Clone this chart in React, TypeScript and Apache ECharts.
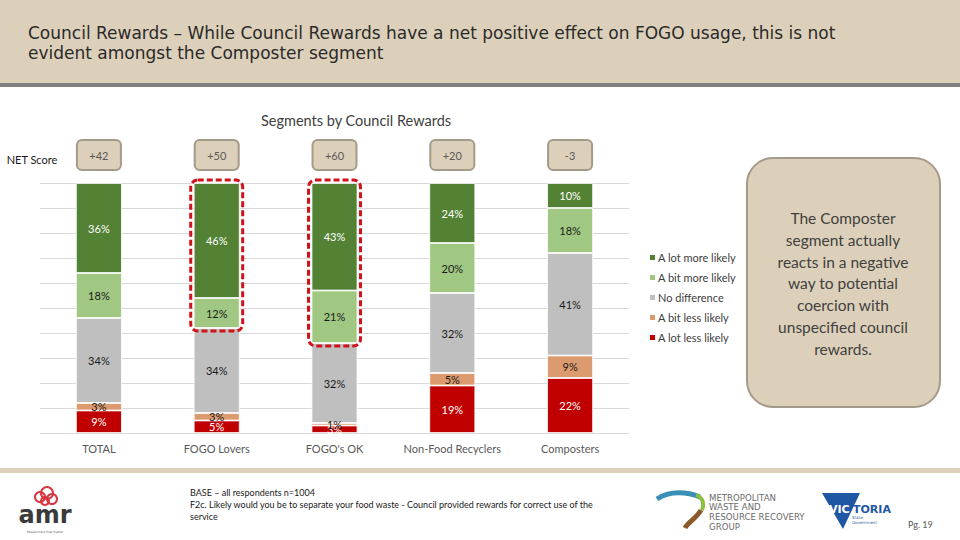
import React, { useEffect, useRef } from "react";
import * as echarts from "echarts";

const categories = ["TOTAL", "FOGO Lovers", "FOGO's OK", "Non-Food Recyclers", "Composters"];
const lotMore = [36, 46, 43, 24, 10];
const bitMore = [18, 12, 21, 20, 18];
const noDiff = [34, 34, 32, 32, 41];
const bitLess = [3, 3, 1, 5, 9];
const lotLess = [9, 5, 3, 19, 22];
const netScores = ["+42", "+50", "+60", "+20", "-3"];
const highlighted = [1, 2];

const seriesDefs = [
  { name: "A lot less likely", data: lotLess, color: "#C00000", label: "#ffffff" },
  { name: "A bit less likely", data: bitLess, color: "#DC9B6E", label: "#1a1a1a" },
  { name: "No difference", data: noDiff, color: "#BFBFBF", label: "#1a1a1a" },
  { name: "A bit more likely", data: bitMore, color: "#A0C882", label: "#1a1a1a" },
  { name: "A lot more likely", data: lotMore, color: "#548235", label: "#ffffff" },
];

const calloutLines = [
  "The Composter",
  "segment actually",
  "reacts in a negative",
  "way to potential",
  "coercion with",
  "unspecified council",
  "rewards.",
];

const FONT = "Lato";
const BEIGE = "#DDD0BA";

export default function App() {
  const ref = useRef<HTMLDivElement>(null);
  useEffect(() => {
    if (!ref.current) return;
    const chart = echarts.init(ref.current, null, { renderer: "svg" });
    chart.setOption({
      animation: false,
      backgroundColor: "#ffffff",
      grid: { left: 40, right: 331, top: 183, bottom: 107 },
      xAxis: {
        type: "category",
        data: categories,
        axisLine: { show: false },
        axisTick: { show: false },
        axisLabel: { color: "#595959", fontFamily: FONT, fontSize: 11, margin: 10, interval: 0 },
      },
      yAxis: {
        type: "value",
        min: 0,
        max: 100,
        interval: 10,
        axisLabel: { show: false },
        axisLine: { show: false },
        axisTick: { show: false },
        splitLine: { lineStyle: { color: "#D9D9D9", width: 1 } },
      },
      legend: {
        orient: "vertical",
        left: 643,
        top: 247,
        itemWidth: 7,
        itemHeight: 7,
        itemGap: 9,
        icon: "rect",
        data: ["A lot more likely", "A bit more likely", "No difference", "A bit less likely", "A lot less likely"],
        textStyle: { color: "#404040", fontFamily: FONT, fontSize: 11, padding: [0, 0, 0, -3] },
      },
      series: seriesDefs.map((s) => ({
        name: s.name,
        type: "bar",
        stack: "total",
        barWidth: "39%",
        data: s.data,
        itemStyle: { color: s.color, borderColor: "#ffffff", borderWidth: 0.8 },
        label: {
          show: true,
          position: "inside",
          formatter: "{c}%",
          color: s.label,
          fontFamily: FONT,
          fontSize: 11,
        },
      })),
    });

    const gfx: any[] = [];
    // title band
    gfx.push({ type: "rect", shape: { x: 0, y: 0, width: 960, height: 83 }, style: { fill: BEIGE }, silent: true });
    gfx.push({ type: "rect", shape: { x: 0, y: 83, width: 960, height: 4 }, style: { fill: "#808080" }, silent: true });
    gfx.push({
      type: "text",
      x: 28,
      y: 23,
      style: {
        text: "Council Rewards – While Council Rewards have a net positive effect on FOGO usage, this is not\nevident amongst the Composter segment",
        fill: "#2a2a2a",
        font: "17px 'DejaVu Sans'",
        lineHeight: 20,
      },
    });
    // subtitle
    gfx.push({
      type: "text",
      x: 356,
      y: 120,
      style: { text: "Segments by Council Rewards", fill: "#404040", font: `14.5px ${FONT}`, align: "center", verticalAlign: "middle" },
    });
    gfx.push({
      type: "text",
      x: 32,
      y: 159,
      style: { text: "NET Score", fill: "#1a1a1a", font: `11px ${FONT}`, align: "center", verticalAlign: "middle" },
    });
    // NET score boxes
    categories.forEach((c, i) => {
      const cx = chart.convertToPixel({ xAxisIndex: 0 }, c) as number;
      gfx.push({
        type: "rect",
        shape: { x: cx - 22, y: 140, width: 44, height: 30, r: 5 },
        style: { fill: BEIGE, stroke: "#A39A8A", lineWidth: 2 },
      });
      gfx.push({
        type: "text",
        x: cx,
        y: 155,
        style: { text: netScores[i], fill: "#595959", font: `11px ${FONT}`, align: "center", verticalAlign: "middle" },
      });
    });
    // highlight dashed boxes
    const yTop = chart.convertToPixel({ yAxisIndex: 0 }, 100) as number;
    const catW = (chart.convertToPixel({ xAxisIndex: 0 }, categories[1]) as number) - (chart.convertToPixel({ xAxisIndex: 0 }, categories[0]) as number);
    const barW = catW * 0.39;
    highlighted.forEach((i) => {
      const cx = chart.convertToPixel({ xAxisIndex: 0 }, categories[i]) as number;
      const yBottom = chart.convertToPixel({ yAxisIndex: 0 }, 100 - lotMore[i] - bitMore[i]) as number;
      gfx.push({
        type: "rect",
        shape: { x: cx - barW / 2 - 3, y: yTop - 3, width: barW + 6, height: yBottom - yTop + 6, r: 7 },
        style: { fill: "none", stroke: "#D0121B", lineWidth: 3, lineDash: [6, 3] },
        z: 10,
      });
    });
    // callout
    gfx.push({
      type: "rect",
      shape: { x: 747, y: 158, width: 193, height: 249, r: 26 },
      style: { fill: BEIGE, stroke: "#A39A8A", lineWidth: 2 },
    });
    calloutLines.forEach((t, i) => {
      gfx.push({
        type: "text",
        x: 843,
        y: 218 + i * 21.8,
        style: { text: t, fill: "#404040", font: `15.5px ${FONT}`, align: "center", verticalAlign: "middle" },
      });
    });
    // footer band
    gfx.push({ type: "rect", shape: { x: 0, y: 468, width: 960, height: 5 }, style: { fill: BEIGE }, silent: true });
    gfx.push({
      type: "text",
      x: 190,
      y: 486,
      style: {
        text: "BASE – all respondents n=1004\nF2c. Likely would you be to separate your food waste - Council provided rewards for correct use of the\nservice",
        fill: "#1a1a1a",
        font: `9px ${FONT}`,
        lineHeight: 12,
        verticalAlign: "top",
      },
    });
    // amr logo
    gfx.push({ type: "circle", shape: { cx: 40, cy: 497, r: 5 }, style: { fill: "none", stroke: "#D9363E", lineWidth: 2 } });
    gfx.push({ type: "circle", shape: { cx: 47, cy: 493, r: 6 }, style: { fill: "none", stroke: "#D9363E", lineWidth: 2 } });
    gfx.push({ type: "circle", shape: { cx: 52, cy: 499, r: 5 }, style: { fill: "none", stroke: "#D9363E", lineWidth: 2 } });
    gfx.push({ type: "circle", shape: { cx: 45, cy: 501, r: 4 }, style: { fill: "none", stroke: "#D9363E", lineWidth: 2 } });
    gfx.push({ type: "text", x: 45, y: 515, style: { text: "amr", fill: "#3a3a3a", font: "bold 24px 'DejaVu Sans'", align: "center", verticalAlign: "middle" } });
    gfx.push({ type: "text", x: 45, y: 532, style: { text: "Researchers that matter", fill: "#666", font: "3px 'DejaVu Sans'", align: "center", verticalAlign: "middle" } });
    // MWRRG logo
    gfx.push({ type: "bezierCurve", shape: { x1: 657, y1: 499, x2: 700, y2: 497, cpx1: 670, cpy1: 490, cpx2: 688, cpy2: 492 }, style: { stroke: "#3A8FB7", lineWidth: 5, fill: "none" } });
    gfx.push({ type: "bezierCurve", shape: { x1: 696, y1: 495, x2: 702, y2: 510, cpx1: 704, cpy1: 498, cpx2: 704, cpy2: 505 }, style: { stroke: "#8DBF3F", lineWidth: 4, fill: "none" } });
    gfx.push({ type: "bezierCurve", shape: { x1: 701, y1: 510, x2: 685, y2: 528, cpx1: 697, cpy1: 518, cpx2: 688, cpy2: 522 }, style: { stroke: "#8B5A2B", lineWidth: 5, fill: "none" } });
    gfx.push({
      type: "text",
      x: 709,
      y: 493,
      style: { text: "METROPOLITAN\nWASTE AND\nRESOURCE RECOVERY\nGROUP", fill: "#6b6b6b", font: "8.6px 'DejaVu Sans'", lineHeight: 9.6 },
    });
    // Victoria logo
    gfx.push({ type: "polygon", shape: { points: [[822, 493], [860, 493], [843, 529]] }, style: { fill: "#1F57A5" } });
    gfx.push({ type: "text", x: 829, y: 509, style: { text: "VIC", fill: "#ffffff", font: "bold 11px 'DejaVu Sans'", verticalAlign: "middle" } });
    gfx.push({ type: "text", x: 853, y: 509, style: { text: "TORIA", fill: "#1F57A5", font: "bold 11px 'DejaVu Sans'", verticalAlign: "middle" } });
    gfx.push({ type: "text", x: 852, y: 520, style: { text: "State\nGovernment", fill: "#1F57A5", font: "4px 'DejaVu Sans'", lineHeight: 5, verticalAlign: "middle" } });
    gfx.push({ type: "text", x: 908, y: 524, style: { text: "Pg. 19", fill: "#595959", font: `9px ${FONT}`, verticalAlign: "middle" } });

    chart.setOption({ graphic: gfx });
    return () => chart.dispose();
  }, []);
  return <div ref={ref} style={{ width: 960, height: 540, position: "fixed", left: 0, top: 0 }} />;
}
